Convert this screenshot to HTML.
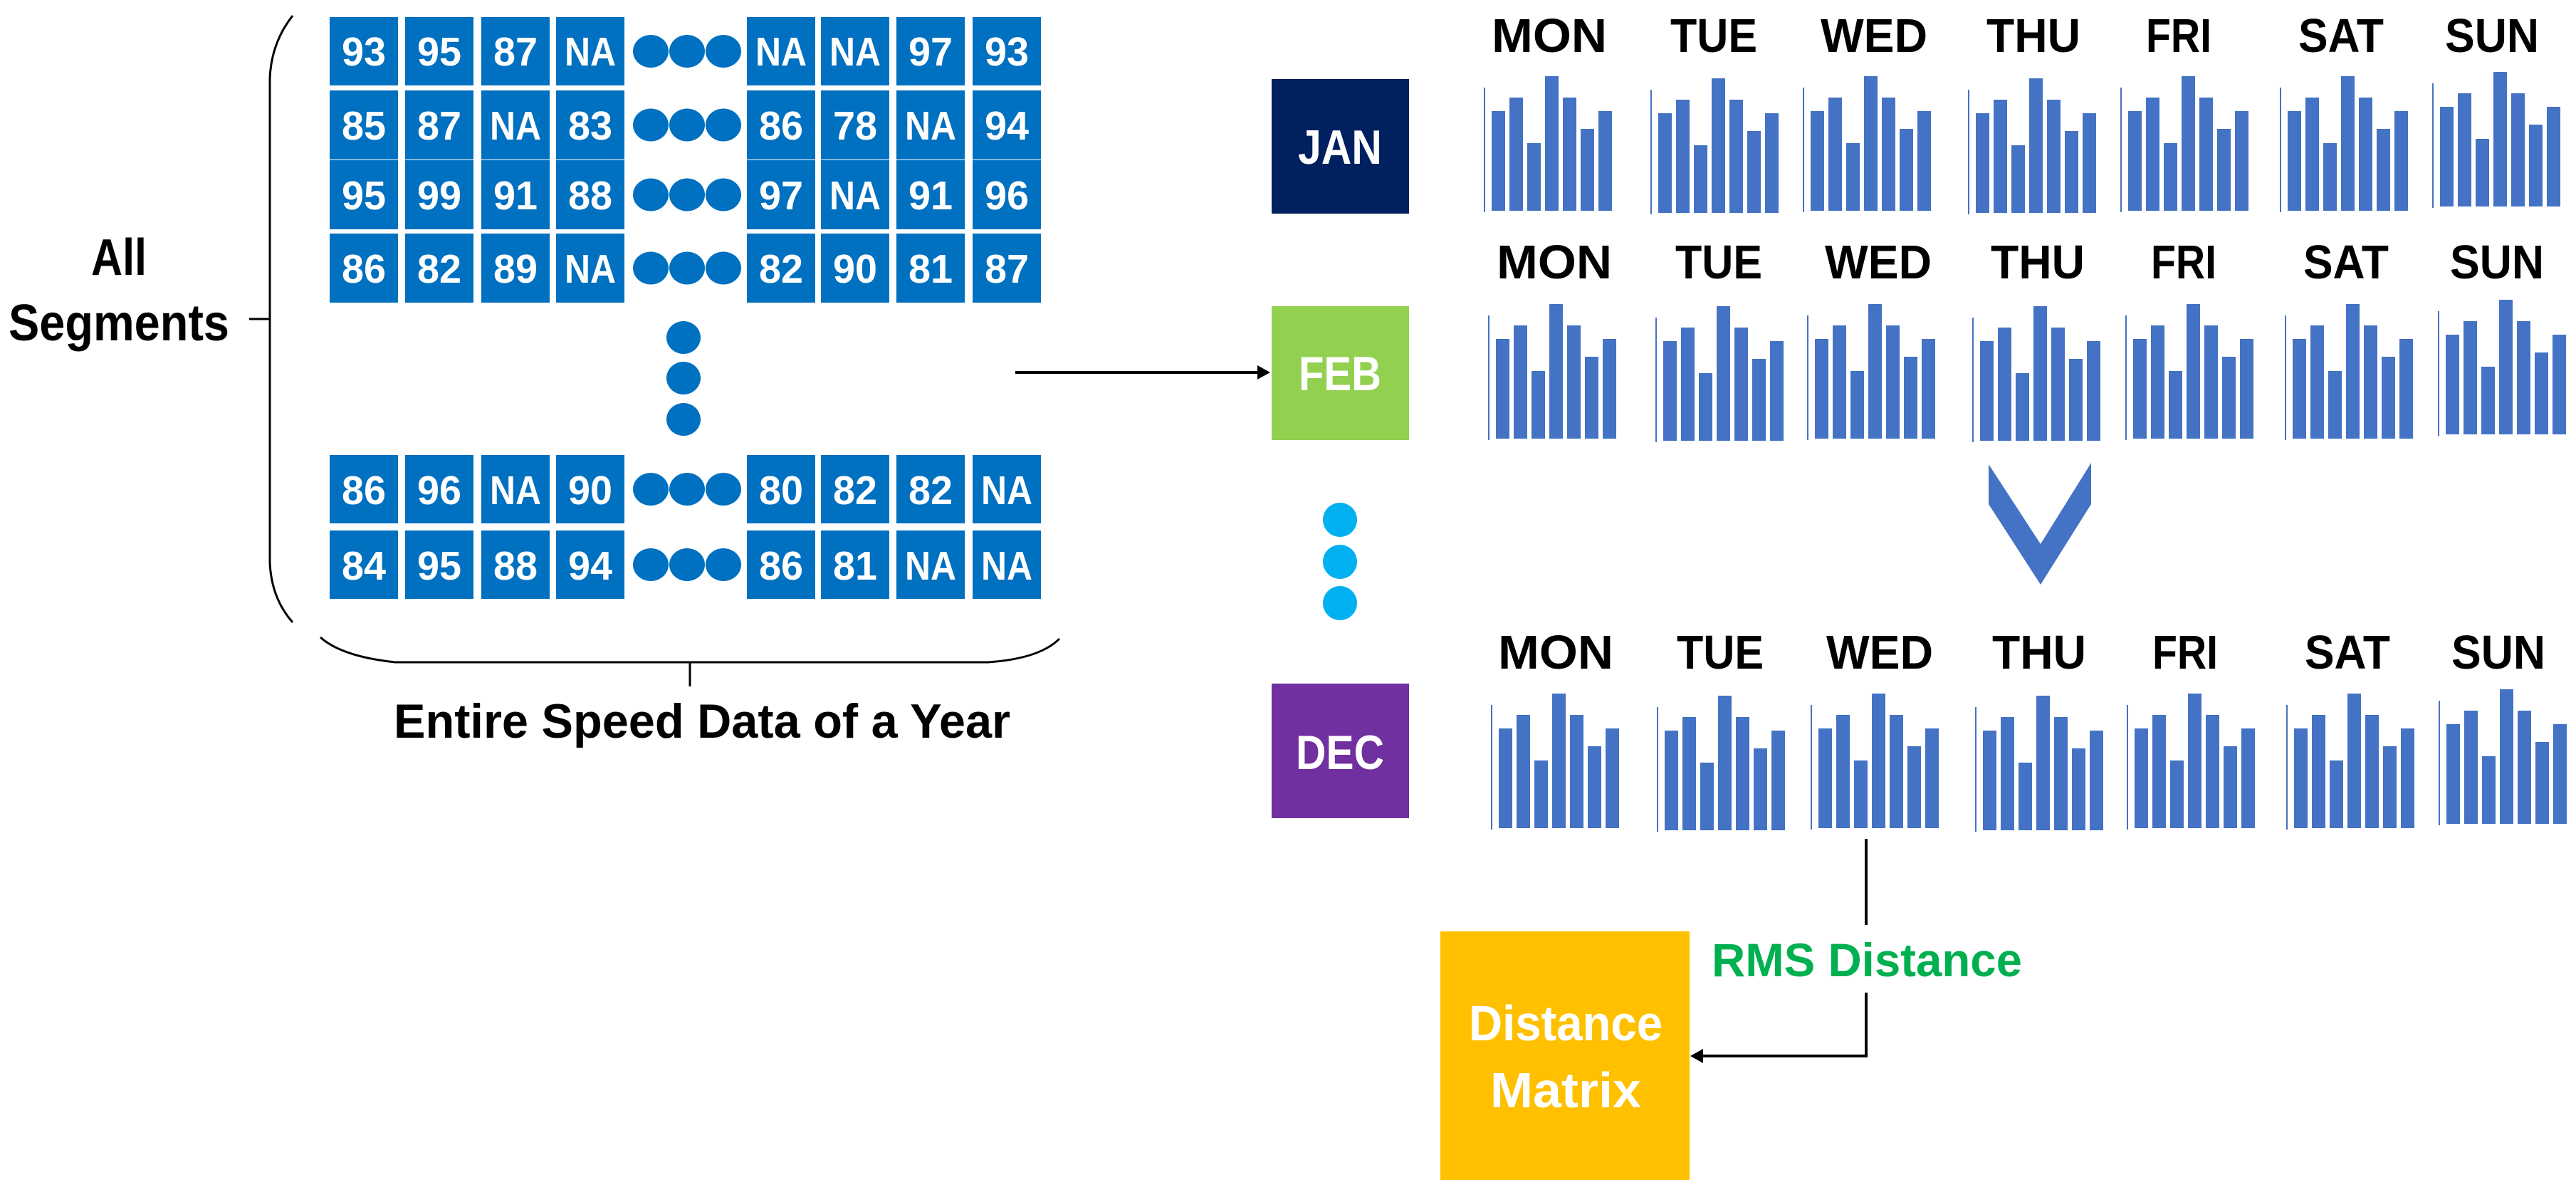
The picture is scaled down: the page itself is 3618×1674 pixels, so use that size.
<!DOCTYPE html>
<html><head><meta charset="utf-8"><style>
html,body{margin:0;padding:0;background:#fff;}
svg{display:block;}
text{font-family:"Liberation Sans",sans-serif;font-weight:bold;}
.c{fill:#fff;font-size:57px;text-anchor:middle;}
.d{fill:#000;font-size:67px;text-anchor:middle;}
</style></head><body>
<svg id="s" width="3618" height="1674" viewBox="0 0 3618 1674" xmlns="http://www.w3.org/2000/svg">
<rect width="3618" height="1674" fill="#fff"/>
<g id="cells" fill="#0070c0"></g>
<g id="dots" fill="#0070c0"></g>
<g class="c">
<text x="511" y="92" textLength="62" lengthAdjust="spacingAndGlyphs">93</text><text x="617" y="92" textLength="62" lengthAdjust="spacingAndGlyphs">95</text><text x="724" y="92" textLength="62" lengthAdjust="spacingAndGlyphs">87</text><text x="829" y="92" textLength="72" lengthAdjust="spacingAndGlyphs">NA</text><text x="1097" y="92" textLength="72" lengthAdjust="spacingAndGlyphs">NA</text><text x="1201" y="92" textLength="72" lengthAdjust="spacingAndGlyphs">NA</text><text x="1307" y="92" textLength="62" lengthAdjust="spacingAndGlyphs">97</text><text x="1414" y="92" textLength="62" lengthAdjust="spacingAndGlyphs">93</text>
<text x="511" y="196" textLength="62" lengthAdjust="spacingAndGlyphs">85</text><text x="617" y="196" textLength="62" lengthAdjust="spacingAndGlyphs">87</text><text x="724" y="196" textLength="72" lengthAdjust="spacingAndGlyphs">NA</text><text x="829" y="196" textLength="62" lengthAdjust="spacingAndGlyphs">83</text><text x="1097" y="196" textLength="62" lengthAdjust="spacingAndGlyphs">86</text><text x="1201" y="196" textLength="62" lengthAdjust="spacingAndGlyphs">78</text><text x="1307" y="196" textLength="72" lengthAdjust="spacingAndGlyphs">NA</text><text x="1414" y="196" textLength="62" lengthAdjust="spacingAndGlyphs">94</text>
<text x="511" y="294" textLength="62" lengthAdjust="spacingAndGlyphs">95</text><text x="617" y="294" textLength="62" lengthAdjust="spacingAndGlyphs">99</text><text x="724" y="294" textLength="62" lengthAdjust="spacingAndGlyphs">91</text><text x="829" y="294" textLength="62" lengthAdjust="spacingAndGlyphs">88</text><text x="1097" y="294" textLength="62" lengthAdjust="spacingAndGlyphs">97</text><text x="1201" y="294" textLength="72" lengthAdjust="spacingAndGlyphs">NA</text><text x="1307" y="294" textLength="62" lengthAdjust="spacingAndGlyphs">91</text><text x="1414" y="294" textLength="62" lengthAdjust="spacingAndGlyphs">96</text>
<text x="511" y="397" textLength="62" lengthAdjust="spacingAndGlyphs">86</text><text x="617" y="397" textLength="62" lengthAdjust="spacingAndGlyphs">82</text><text x="724" y="397" textLength="62" lengthAdjust="spacingAndGlyphs">89</text><text x="829" y="397" textLength="72" lengthAdjust="spacingAndGlyphs">NA</text><text x="1097" y="397" textLength="62" lengthAdjust="spacingAndGlyphs">82</text><text x="1201" y="397" textLength="62" lengthAdjust="spacingAndGlyphs">90</text><text x="1307" y="397" textLength="62" lengthAdjust="spacingAndGlyphs">81</text><text x="1414" y="397" textLength="62" lengthAdjust="spacingAndGlyphs">87</text>
<text x="511" y="708" textLength="62" lengthAdjust="spacingAndGlyphs">86</text><text x="617" y="708" textLength="62" lengthAdjust="spacingAndGlyphs">96</text><text x="724" y="708" textLength="72" lengthAdjust="spacingAndGlyphs">NA</text><text x="829" y="708" textLength="62" lengthAdjust="spacingAndGlyphs">90</text><text x="1097" y="708" textLength="62" lengthAdjust="spacingAndGlyphs">80</text><text x="1201" y="708" textLength="62" lengthAdjust="spacingAndGlyphs">82</text><text x="1307" y="708" textLength="62" lengthAdjust="spacingAndGlyphs">82</text><text x="1414" y="708" textLength="72" lengthAdjust="spacingAndGlyphs">NA</text>
<text x="511" y="814" textLength="62" lengthAdjust="spacingAndGlyphs">84</text><text x="617" y="814" textLength="62" lengthAdjust="spacingAndGlyphs">95</text><text x="724" y="814" textLength="62" lengthAdjust="spacingAndGlyphs">88</text><text x="829" y="814" textLength="62" lengthAdjust="spacingAndGlyphs">94</text><text x="1097" y="814" textLength="62" lengthAdjust="spacingAndGlyphs">86</text><text x="1201" y="814" textLength="62" lengthAdjust="spacingAndGlyphs">81</text><text x="1307" y="814" textLength="72" lengthAdjust="spacingAndGlyphs">NA</text><text x="1414" y="814" textLength="72" lengthAdjust="spacingAndGlyphs">NA</text>
</g>
<g fill="none" stroke="#000" stroke-width="3">
<path d="M411 22 Q381 60 379 110 L379 790 Q381 840 411 874"/>
<line x1="350" y1="448" x2="379" y2="448"/>
<path d="M450 895 Q480 922 555 930 L1388 930 Q1460 925 1488 897"/>
<line x1="969" y1="930" x2="969" y2="964"/>
</g>
<text x="167" y="386" font-size="72" text-anchor="middle" textLength="78" lengthAdjust="spacingAndGlyphs">All</text>
<text x="167" y="478" font-size="72" text-anchor="middle" textLength="310" lengthAdjust="spacingAndGlyphs">Segments</text>
<text x="553" y="1036" font-size="68" textLength="866" lengthAdjust="spacingAndGlyphs">Entire Speed Data of a Year</text>
<line x1="1426" y1="523" x2="1770" y2="523" stroke="#000" stroke-width="4"/>
<polygon points="1784,523 1766,513 1766,533" fill="#000"/>
<rect x="1786" y="111" width="193" height="189" fill="#002060"/>
<rect x="1786" y="430" width="193" height="188" fill="#92d050"/>
<rect x="1786" y="960" width="193" height="189" fill="#7030a0"/>
<g fill="#fff" font-size="68" text-anchor="middle">
<text x="1882" y="230" textLength="118" lengthAdjust="spacingAndGlyphs">JAN</text>
<text x="1882" y="548" textLength="116" lengthAdjust="spacingAndGlyphs">FEB</text>
<text x="1882" y="1080" textLength="124" lengthAdjust="spacingAndGlyphs">DEC</text>
</g>
<g fill="#00b0f0"><ellipse cx="1882" cy="730" rx="24" ry="24"/><ellipse cx="1882" cy="789" rx="24" ry="24"/><ellipse cx="1882" cy="847" rx="24" ry="24"/></g>
<polygon points="2793,652 2793,708 2866,821 2937,708 2937,650 2866,764" fill="#4472c4"/>
<g class="d">
<text x="2176" y="73" textLength="162" lengthAdjust="spacingAndGlyphs">MON</text><text x="2407" y="73" textLength="122" lengthAdjust="spacingAndGlyphs">TUE</text><text x="2632" y="73" textLength="150" lengthAdjust="spacingAndGlyphs">WED</text><text x="2856" y="73" textLength="132" lengthAdjust="spacingAndGlyphs">THU</text><text x="3060" y="73" textLength="92" lengthAdjust="spacingAndGlyphs">FRI</text><text x="3288" y="73" textLength="120" lengthAdjust="spacingAndGlyphs">SAT</text><text x="3500" y="73" textLength="132" lengthAdjust="spacingAndGlyphs">SUN</text>
<text x="2183" y="391" textLength="162" lengthAdjust="spacingAndGlyphs">MON</text><text x="2414" y="391" textLength="122" lengthAdjust="spacingAndGlyphs">TUE</text><text x="2638" y="391" textLength="150" lengthAdjust="spacingAndGlyphs">WED</text><text x="2862" y="391" textLength="132" lengthAdjust="spacingAndGlyphs">THU</text><text x="3067" y="391" textLength="92" lengthAdjust="spacingAndGlyphs">FRI</text><text x="3295" y="391" textLength="120" lengthAdjust="spacingAndGlyphs">SAT</text><text x="3507" y="391" textLength="132" lengthAdjust="spacingAndGlyphs">SUN</text>
<text x="2185" y="939" textLength="162" lengthAdjust="spacingAndGlyphs">MON</text><text x="2416" y="939" textLength="122" lengthAdjust="spacingAndGlyphs">TUE</text><text x="2640" y="939" textLength="150" lengthAdjust="spacingAndGlyphs">WED</text><text x="2864" y="939" textLength="132" lengthAdjust="spacingAndGlyphs">THU</text><text x="3069" y="939" textLength="92" lengthAdjust="spacingAndGlyphs">FRI</text><text x="3297" y="939" textLength="120" lengthAdjust="spacingAndGlyphs">SAT</text><text x="3509" y="939" textLength="132" lengthAdjust="spacingAndGlyphs">SUN</text>
</g>
<g id="bars" fill="#4472c4"></g>
<g stroke="#000" stroke-width="4" fill="none">
<line x1="2621" y1="1178" x2="2621" y2="1299"/>
<polyline points="2621,1394 2621,1483 2390,1483"/>
</g>
<polygon points="2374,1483 2392,1473 2392,1493" fill="#000"/>
<text x="2404" y="1371" font-size="66" fill="#00b050" textLength="436" lengthAdjust="spacingAndGlyphs">RMS Distance</text>
<rect x="2023" y="1308" width="350" height="349" fill="#ffc000"/>
<text x="2199" y="1461" font-size="70" fill="#fff" text-anchor="middle" textLength="272" lengthAdjust="spacingAndGlyphs">Distance</text>
<text x="2199" y="1555" font-size="70" fill="#fff" text-anchor="middle" textLength="212" lengthAdjust="spacingAndGlyphs">Matrix</text>
</svg>
<script>
var NS="http://www.w3.org/2000/svg";
function el(p,t,a){var e=document.createElementNS(NS,t);for(var k in a)e.setAttribute(k,a[k]);document.getElementById(p).appendChild(e);return e;}
var cx=[463,569,676,781,1049,1153,1259,1366];
var rows=[[24,96],[127,97],[225,97],[328,97],[639,96],[745,96]];
rows.forEach(function(r){
 cx.forEach(function(x){el("cells","rect",{x:x,y:r[0],width:96,height:r[1]});});
 [914,965,1016].forEach(function(x){el("dots","ellipse",{cx:x,cy:r[0]+r[1]/2,rx:25,ry:23});});
});
[474,531,589].forEach(function(y){el("dots","ellipse",{cx:960,cy:y,rx:24,ry:23});});
var H=[140,159,95,189,159,115,140];
var charts=[
 {b:296,xs:[2084,2318,2532,2764,2978,3202,3416]},
 {b:616,xs:[2090,2325,2538,2770,2985,3209,3424]},
 {b:1163,xs:[2094,2327,2543,2774,2987,3211,3425]}
];
charts.forEach(function(c){
 c.xs.forEach(function(x,i){
  var off=(i==6?-6:(i==1||i==3?3:0));
  var b=c.b+off;
  el("bars","rect",{x:x,y:b-173,width:2,height:175});
  H.forEach(function(h,j){el("bars","rect",{x:x+11+j*25,y:b-h,width:19,height:h});});
 });
});
</script>
</body></html>
